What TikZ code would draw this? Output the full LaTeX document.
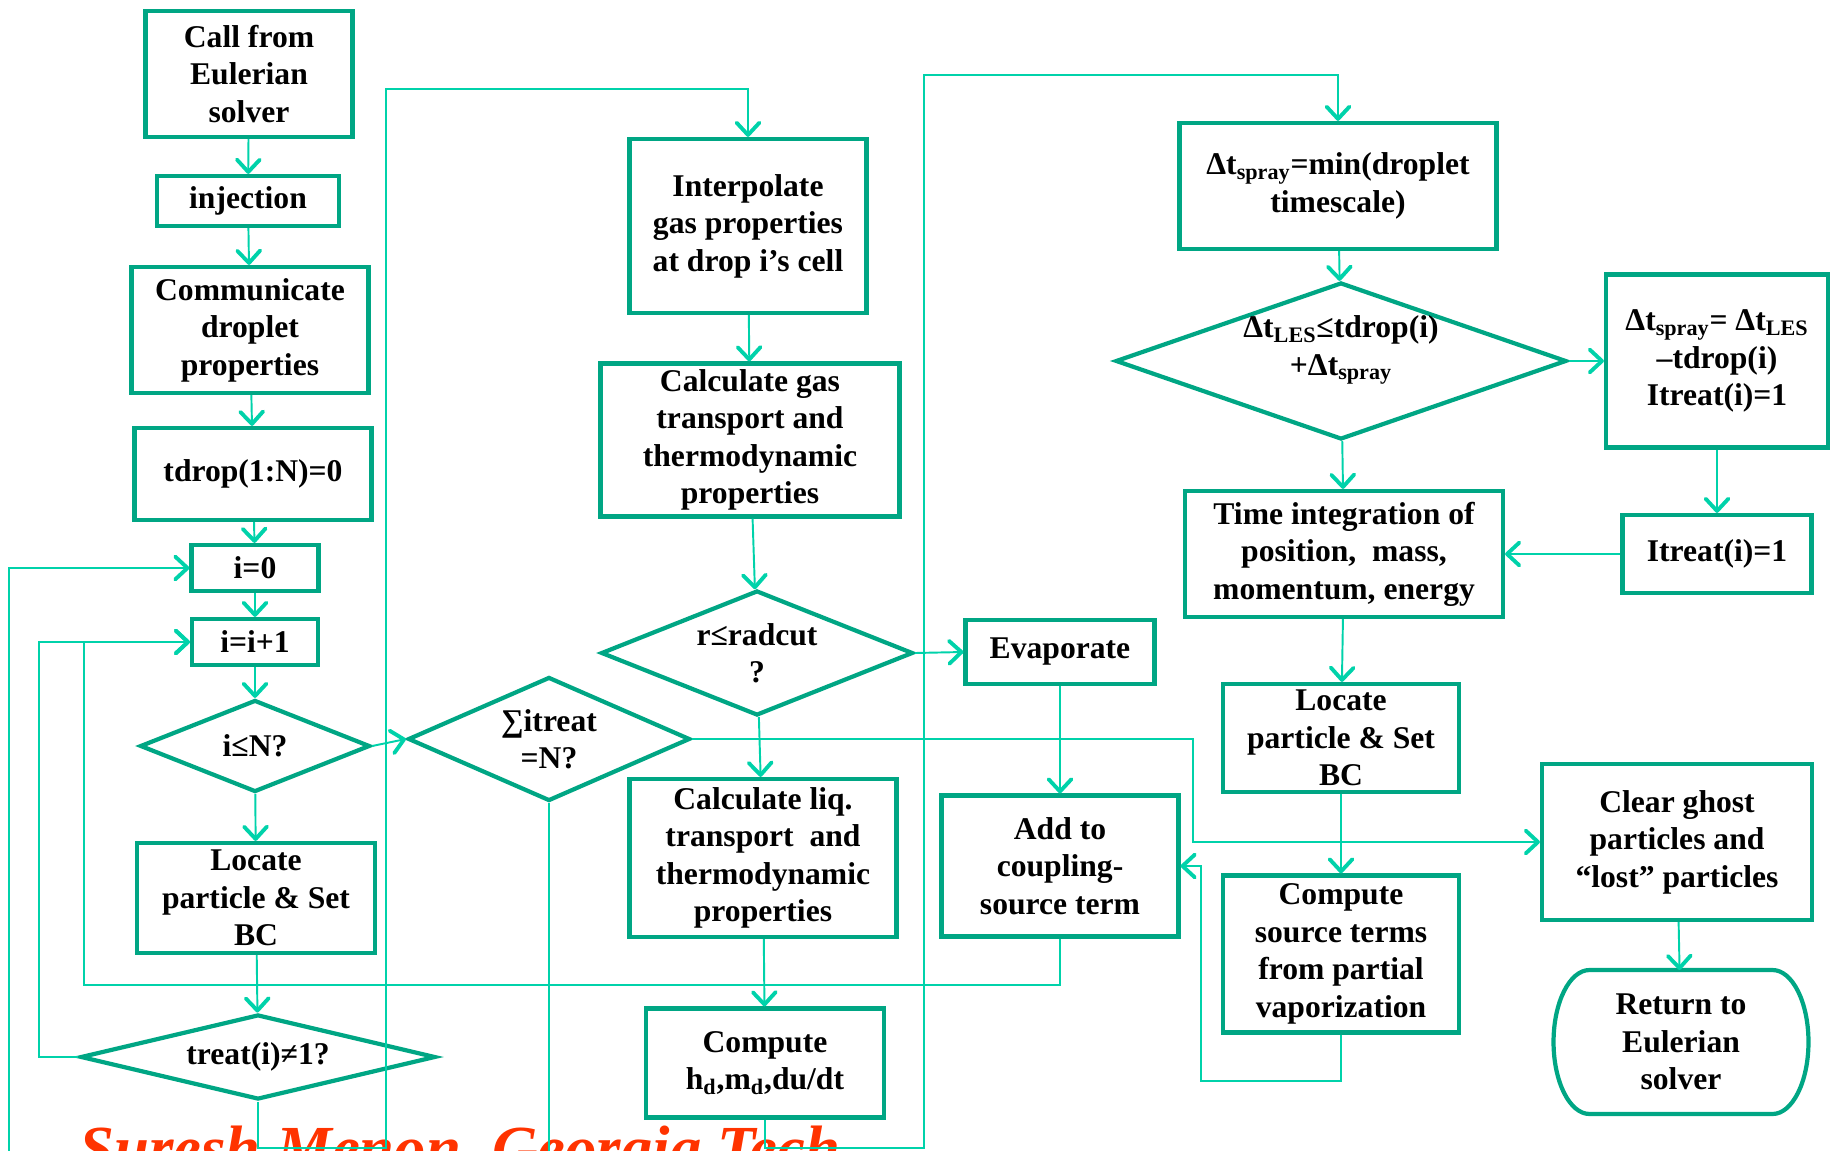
\documentclass[tikz,border=0pt]{standalone}
\usepackage{fontspec}
\setmainfont{Liberation Serif}
\usepackage{xcolor}
\usepackage{tikz}
\usetikzlibrary{shapes.geometric,arrows.meta}

\definecolor{boxgreen}{RGB}{0,166,132}
\definecolor{flowgreen}{RGB}{0,210,170}
\definecolor{markred}{RGB}{255,51,0}

\begin{document}
\begin{tikzpicture}[x=0.02cm, y=-0.02cm,
        box/.style={rectangle, draw=boxgreen, line width=2.4pt, inner sep=0pt,
            align=center, font=\fontsize{18pt}{21.3pt}\selectfont\bfseries},
        dec/.style={diamond, draw=boxgreen, line width=2.4pt, inner sep=0pt,
            align=center, font=\fontsize{18pt}{21.3pt}\selectfont\bfseries},
        term/.style={rectangle, line width=2.4pt, inner sep=0pt, outer sep=0pt,
            align=center, font=\fontsize{18pt}{21.3pt}\selectfont\bfseries},
        flow/.style={draw=flowgreen, line width=1.1pt},
        >={Straight Barb[length=7pt, width=13pt, line width=2.2pt, round]}]

        \useasboundingbox (0,0) rectangle (1831,1151);

        \node[anchor=base west, inner sep=0pt, text=markred,
            font=\fontsize{35.7pt}{40pt}\selectfont\bfseries\itshape] (mark) at (79,1169)
            {Suresh Menon, Georgia Tech};

        \node[box, minimum width=4.14cm, minimum height=2.52cm] (call) at (249,74) {Call from\\Eulerian\\solver};
        \node[box, minimum width=3.64cm, minimum height=1.0cm] (inj) at (248,201) {injection};
        \node[box, minimum width=4.74cm, minimum height=2.52cm] (comm) at (250,330) {Communicate\\droplet\\properties};
        \node[box, minimum width=4.74cm, minimum height=1.84cm] (tdrop) at (253,474) {tdrop(1:N)=0};
        \node[box, minimum width=2.54cm, minimum height=0.92cm] (izero) at (255,568) {i=0};
        \node[box, minimum width=2.52cm, minimum height=0.92cm] (iinc) at (255,642) {i=i+1};
        \node[dec, aspect=2.5, minimum width=4.6cm, minimum height=1.84cm] (ileN) at (255,746) {i≤N?};
        \node[box, minimum width=4.76cm, minimum height=2.2cm] (locL) at (256,898) {Locate\\particle \& Set\\BC};
        \node[dec, aspect=4.2, minimum width=7.1cm, minimum height=1.7cm] (treat) at (258,1057) {treat(i)≠1?};
        \node[dec, aspect=2.28, minimum width=5.64cm, minimum height=2.48cm] (sumtr) at (549,739) {∑itreat\\=N?};

        \node[box, minimum width=4.74cm, minimum height=3.48cm] (interp) at (748,226) {Interpolate\\gas properties\\at drop i’s cell};
        \node[box, minimum width=5.98cm, minimum height=3.06cm] (calcg) at (750,440) {Calculate gas\\transport and\\thermodynamic\\properties};
        \node[dec, aspect=2.5, minimum width=6.24cm, minimum height=2.5cm] (radc) at (757,653) {r≤radcut\\?};
        \node[box, minimum width=5.34cm, minimum height=3.16cm] (calcl) at (763,858) {Calculate liq.\\transport~ and\\thermodynamic\\properties};
        \node[box, minimum width=4.76cm, minimum height=2.18cm] (comphd) at (765,1063) {Compute\\h\textsubscript{d},m\textsubscript{d},du/dt};
        \node[box, minimum width=3.78cm, minimum height=1.28cm] (evap) at (1060,652) {Evaporate};
        \node[box, minimum width=4.74cm, minimum height=2.82cm] (add) at (1060,866) {Add to\\coupling-\\source term};

        \node[box, minimum width=6.34cm, minimum height=2.52cm] (dtmin) at (1338,186) {Δt\textsubscript{spray}=min(droplet\\timescale)};
        \node[dec, aspect=2.88, minimum width=9.02cm, minimum height=3.14cm, text height=30pt, text depth=14pt] (dles) at (1341,361) {Δt\textsubscript{LES}≤tdrop(i)\\+Δt\textsubscript{spray}};
        \node[box, minimum width=4.44cm, minimum height=3.46cm] (dtset) at (1717,361) {Δt\textsubscript{spray}= Δt\textsubscript{LES}\\–tdrop(i)\\Itreat(i)=1};
        \node[box, minimum width=3.78cm, minimum height=1.56cm] (itr) at (1717,554) {Itreat(i)=1};
        \node[box, minimum width=6.36cm, minimum height=2.52cm] (tint) at (1344,554) {Time integration of\\position,~ mass,\\momentum, energy};
        \node[box, minimum width=4.72cm, minimum height=2.16cm] (locR) at (1341,738) {Locate\\particle \& Set\\BC};
        \node[box, minimum width=4.72cm, minimum height=3.14cm] (csrc) at (1341,954) {Compute\\source terms\\from partial\\vaporization};
        \node[box, minimum width=5.4cm, minimum height=3.12cm] (clear) at (1677,842) {Clear ghost\\particles and\\“lost” particles};
        \node[term, minimum width=5.1cm, minimum height=2.88cm] (ret) at (1681,1042) {Return to\\Eulerian\\solver};
        \draw[draw=boxgreen, line width=2.4pt] ([xshift=0.72cm]ret.north west) -- ([xshift=-0.72cm]ret.north east)
            arc[start angle=90, end angle=-90, x radius=0.72cm, y radius=1.44cm] -- ([xshift=0.72cm]ret.south west)
            arc[start angle=270, end angle=90, x radius=0.72cm, y radius=1.44cm] -- cycle;

        \coordinate (loopA) at (9,1180);
        \coordinate (loopB) at (39,642);
        \coordinate (loopC) at (84,985);
        \coordinate (gasA) at (386,1148);
        \coordinate (gasB) at (386,89);
        \coordinate (sprayA) at (924,1148);
        \coordinate (sprayB) at (924,75);
        \coordinate (srcA) at (1201,1081);
        \coordinate (ghostA) at (1193,739);

        \draw[flow,->] (call) -- (inj);
        \draw[flow,->] (inj) -- (comm);
        \draw[flow,->] (comm) -- (tdrop);
        \draw[flow,->] (tdrop) -- (izero);
        \draw[flow,->] (izero) -- (iinc);
        \draw[flow,->] (iinc) -- (ileN);
        \draw[flow,->] (ileN) -- (locL);
        \draw[flow,->] (locL) -- (treat);
        \draw[flow,->] (ileN.east) -- (sumtr.west);
        \draw[flow,->] (treat.west) -| (loopB) -- (iinc.west);
        \draw[flow,->] (add.south) |- (loopC) |- (iinc.west);
        \draw[flow,->] (treat.south) |- (gasA) -- (gasB) -| (interp.north);
        \draw[flow,->] (sumtr.south) |- (loopA) |- (izero.west);
        \draw[flow,->] (interp) -- (calcg);
        \draw[flow,->] (calcg) -- (radc);
        \draw[flow,->] (radc.east) -- (evap.west);
        \draw[flow,->] (radc) -- (calcl);
        \draw[flow,->] (calcl) -- (comphd);
        \draw[flow,->] (evap) -- (add);
        \draw[flow,->] (comphd.south) |- (sprayA) -- (sprayB) -| (dtmin.north);
        \draw[flow,->] (dtmin) -- (dles);
        \draw[flow,->] (dles.east) -- (dtset.west);
        \draw[flow,->] (dles) -- (tint);
        \draw[flow,->] (dtset) -- (itr);
        \draw[flow,->] (itr.west) -- (tint.east);
        \draw[flow,->] (tint) -- (locR);
        \draw[flow,->] (locR) -- (csrc);
        \draw[flow,->] (csrc.south) |- (srcA) |- (add.east);
        \draw[flow,->] (sumtr.east) -- (ghostA) |- (clear.west);
        \draw[flow,->] (clear) -- (ret);
    \end{tikzpicture}
\end{document}
